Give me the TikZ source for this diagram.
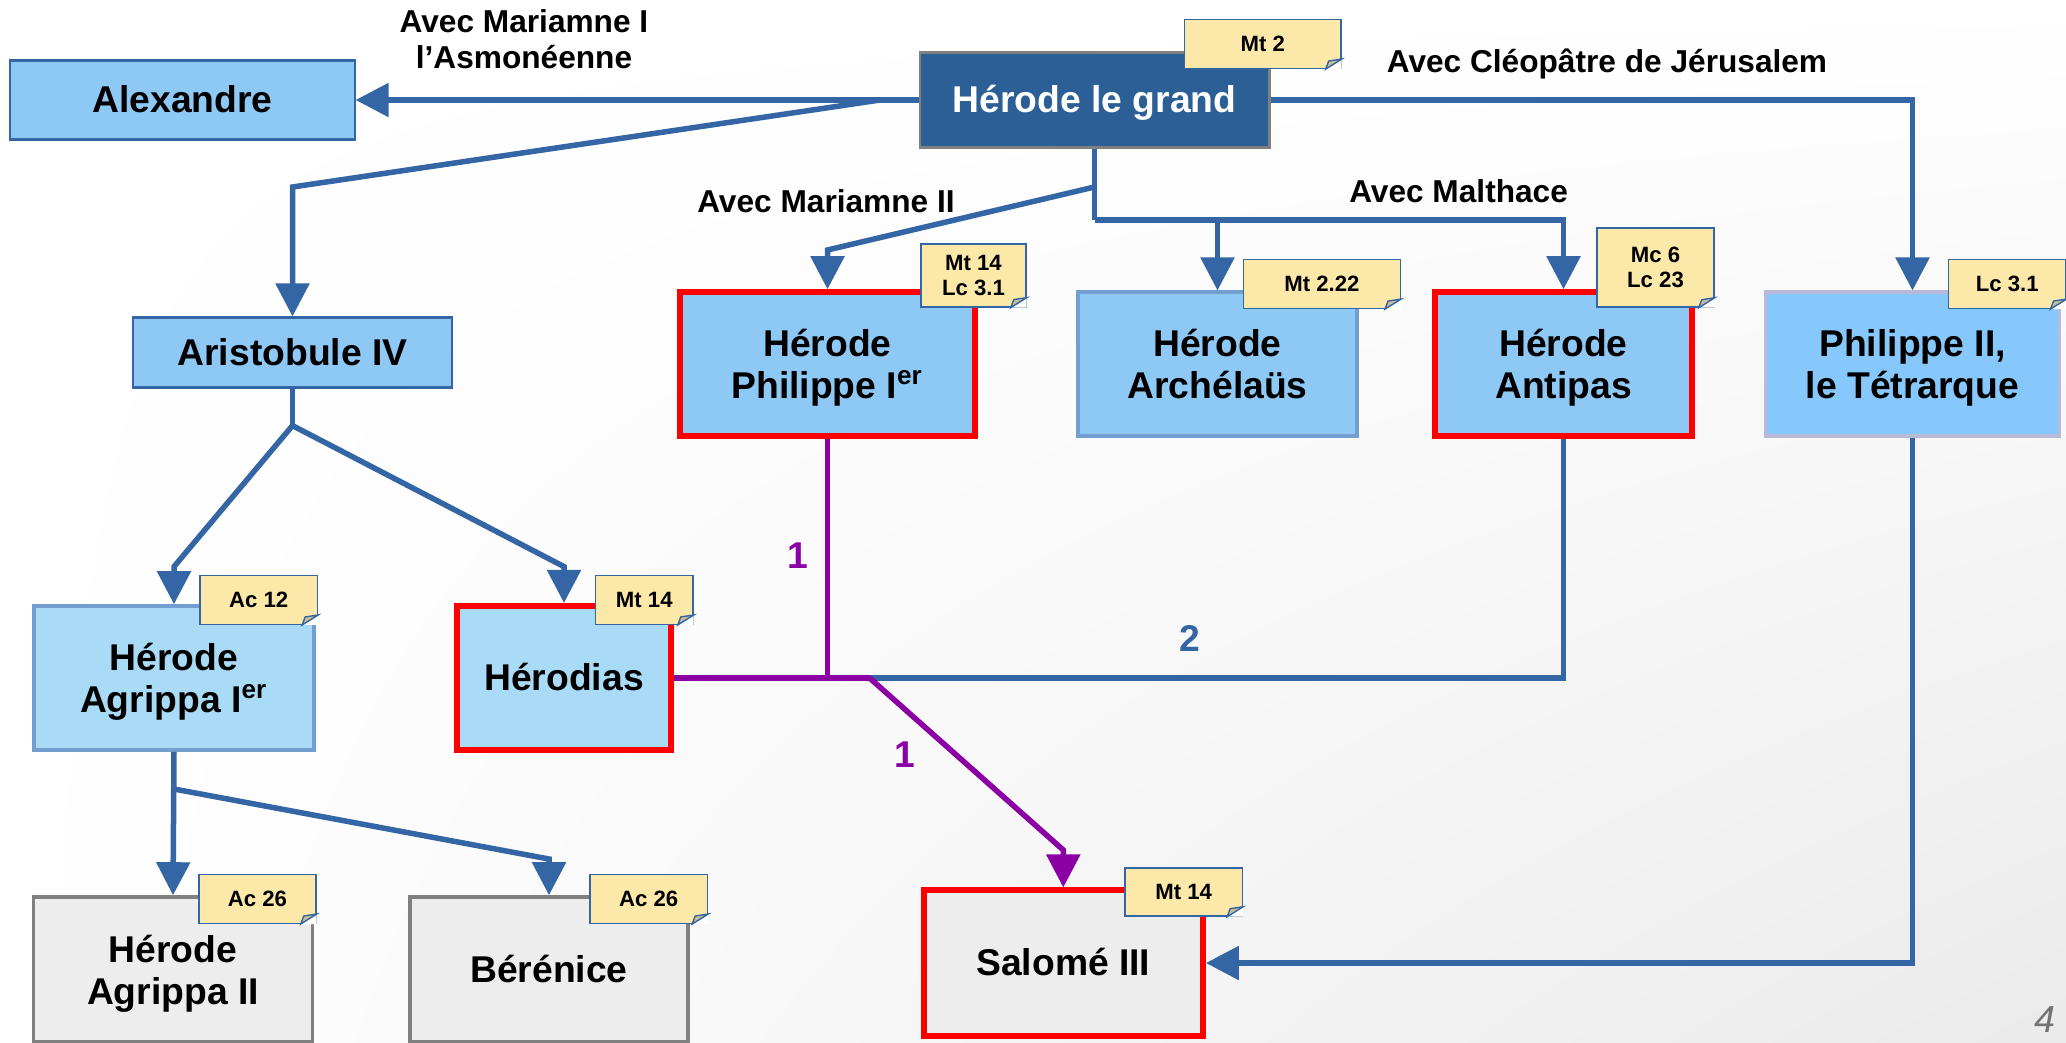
\documentclass[tikz,border=0pt]{standalone}
\usepackage{fontspec}
\setmainfont{Liberation Sans}
\usetikzlibrary{arrows.meta,shadings}

\definecolor{lineblue}{HTML}{3465A4}
\definecolor{darkblue}{HTML}{2D5F97}
\definecolor{boxblue}{HTML}{8EC8F5}
\definecolor{paleblue}{HTML}{A9DBF6}
\definecolor{skyblue}{HTML}{86C8FB}
\definecolor{boxgray}{HTML}{EDEDED}
\definecolor{edgegray}{HTML}{808080}
\definecolor{rimblue}{HTML}{729FCF}
\definecolor{lilac}{HTML}{B9B9D9}
\definecolor{purp}{HTML}{8B00A4}
\definecolor{notefill}{HTML}{FCE8A9}
\definecolor{foldfill}{HTML}{CDBD94}
\definecolor{redrim}{HTML}{FF0000}

\newcommand\lostrut{\rule[-0.212em]{0pt}{1.117em}}

\begin{document}
\begin{tikzpicture}[x=0.01cm, y=-0.01cm,
    person/.style={rectangle, inner sep=0pt, align=center,
      font=\fontsize{10.6}{12}\selectfont\bfseries,
      execute at begin node=\lostrut, execute at end node=\lostrut},
    pair/.style={execute at end node={}, text depth=0pt},
    wed/.style={align=center, font=\fontsize{9}{10.3}\selectfont\bfseries},
    ref/.style={rectangle, fill=notefill, draw=lineblue, line width=0.4pt,
      inner sep=0pt, align=center, font=\fontsize{6.3}{7.1}\selectfont\bfseries},
    count/.style={font=\fontsize{10.6}{12}\selectfont\bfseries},
    tip/.style={-{Triangle[length=0.33cm,width=0.33cm]}},
    tie/.style={draw=lineblue, line width=0.055cm},
    link/.style={tie, tip},
    kin/.style={draw=purp, line width=0.055cm}]

  \useasboundingbox (0,0) rectangle (2066,1042);
  \shade[upper left=white, upper right=white, lower left=white, lower right=black!8]
    (0,0) rectangle (2066,1042);

  % junctions and bends
  \coordinate (jA) at (880,100);
  \coordinate (bA) at (292.5,187);
  \coordinate (jB) at (1094.5,220);
  \coordinate (jD) at (1094.5,187);
  \coordinate (bD) at (827.5,250);
  \coordinate (jE) at (292.5,425.6);
  \coordinate (bE1) at (174,566.6);
  \coordinate (bE2) at (564,566.6);
  \coordinate (jF) at (174,789);
  \coordinate (bF) at (549,859);
  \coordinate (jG) at (827.5,678);
  \coordinate (jH) at (869.6,678);
  \coordinate (bH) at (1063.3,850);

  \begin{scope}[every node/.style={person}]
    \node[fill=darkblue, draw=edgegray, line width=0.8pt, text=white,
      minimum width=3.49cm, minimum height=0.95cm] (herode) at (1094.5,100) {Hérode le grand};
    \node[fill=boxblue, draw=lineblue, line width=0.6pt,
      minimum width=3.44cm, minimum height=0.79cm] (alexandre) at (182.5,100) {Alexandre};
    \node[fill=boxblue, draw=lineblue, line width=0.6pt,
      minimum width=3.19cm, minimum height=0.70cm] (aristobule) at (292.5,352.5) {Aristobule IV};
    \node[pair, fill=boxblue, draw=redrim, line width=0.06cm,
      minimum width=2.95cm, minimum height=1.435cm] (philippeI) at (827.5,364) {Hérode\\Philippe I\textsuperscript{er}};
    \node[pair, fill=boxblue, draw=rimblue, line width=1pt,
      minimum width=2.79cm, minimum height=1.435cm] (archelaus) at (1217.5,364) {Hérode\\Archélaüs};
    \node[pair, fill=boxblue, draw=redrim, line width=0.06cm,
      minimum width=2.57cm, minimum height=1.435cm] (antipas) at (1563.5,364) {Hérode\\Antipas};
    \node[pair, fill=skyblue, draw=lilac, line width=1pt,
      minimum width=2.94cm, minimum height=1.435cm] (philippeII) at (1912.5,364) {Philippe II,\\le Tétrarque};
    \node[pair, fill=paleblue, draw=rimblue, line width=1pt,
      minimum width=2.80cm, minimum height=1.44cm] (agrippa) at (174,678) {Hérode\\Agrippa I\textsuperscript{er}};
    \node[fill=paleblue, draw=redrim, line width=0.06cm,
      minimum width=2.14cm, minimum height=1.44cm] (herodias) at (564,678) {Hérodias};
    \node[fill=boxgray, draw=redrim, line width=0.06cm,
      minimum width=2.79cm, minimum height=1.45cm] (salome) at (1063.3,963) {Salomé III};
    \node[pair, fill=boxgray, draw=edgegray, line width=1pt,
      minimum width=2.79cm, minimum height=1.45cm] (agrippaII) at (173,969.5) {Hérode\\Agrippa II};
    \node[fill=boxgray, draw=edgegray, line width=1pt,
      minimum width=2.78cm, minimum height=1.45cm] (berenice) at (549,969.5) {Bérénice};
  \end{scope}

  % marriages
  \node[wed] (wedI) at (524,39) {Avec Mariamne I\\l’Asmonéenne};
  \node[wed] (wedCl) at (1607,64) {Avec Cléopâtre de Jérusalem};
  \node[wed] (wedII) at (826,201.6) {Avec Mariamne II};
  \node[wed] (wedMa) at (1458.6,191) {Avec Malthace};

  % descent
  \draw[link] (herode.west) -- (alexandre.east);
  \draw[link] (jA) -- (bA) -- (aristobule.north);
  \draw[tie] (herode.south) -- (jB);
  \draw[link] (jB) -| (antipas.north);
  \draw[link] (archelaus.north |- jB) -- (archelaus.north);
  \draw[link] (jD) -- (bD) -- (philippeI.north);
  \draw[link] (herode.east) -| (philippeII.north);
  \draw[tie] (aristobule.south) -- (jE);
  \draw[link] (jE) -- (bE1) -- (agrippa.north);
  \draw[link] (jE) -- (bE2) -- (herodias.north);
  \draw[link] (agrippa.south) -- (agrippaII.north);
  \draw[link] (jF) -- (bF) -- (berenice.north);
  \draw[link] (philippeII.south) |- (salome.east);
  \draw[tie] (antipas.south) |- (jH);
  \draw[kin] (philippeI.south) -- (jG);
  \draw[kin] (herodias.east) -- (jH);
  \draw[kin, tip] (jH) -- (bH) -- (salome.north);

  \node[count, text=purp] (nI) at (798,556) {1};
  \node[count, text=lineblue] (nII) at (1190,638) {2};
  \node[count, text=purp] (nIII) at (905,755) {1};

  % references
  \begin{scope}[every node/.style={ref}]
    \node[minimum width=1.565cm, minimum height=0.487cm] (refHer) at (1262.7,44) {Mt 2};
    \node[minimum width=1.05cm, minimum height=0.63cm] (refPhI) at (973.5,275.4) {Mt 14\\Lc 3.1};
    \node[minimum width=1.566cm, minimum height=0.487cm] (refArc) at (1322,284) {Mt 2.22};
    \node[minimum width=1.17cm, minimum height=0.79cm] (refAnt) at (1655.5,267.5) {Mc 6\\Lc 23};
    \node[minimum width=1.17cm, minimum height=0.487cm] (refPhII) at (2007.3,284) {Lc 3.1};
    \node[minimum width=1.175cm, minimum height=0.485cm] (refAgr) at (258.7,600) {Ac 12};
    \node[minimum width=0.974cm, minimum height=0.485cm] (refHds) at (644.3,600) {Mt 14};
    \node[minimum width=1.175cm, minimum height=0.48cm] (refSal) at (1183.7,892) {Mt 14};
    \node[minimum width=1.17cm, minimum height=0.486cm] (refAgII) at (257.5,899) {Ac 26};
    \node[minimum width=1.175cm, minimum height=0.486cm] (refBer) at (648.7,899) {Ac 26};
  \end{scope}

  \foreach \n in {refHer,refPhI,refArc,refAnt,refPhII,refAgr,refHds,refSal,refAgII,refBer}{
    \fill[white] (\n.south east) -- ++(-16,0) -- ++(16,-10) -- cycle;
    \filldraw[fill=foldfill, draw=lineblue, line width=0.4pt]
      (\n.south east) ++(-16,0) -- ++(16,-10) -- ++(-13,2) -- cycle;
  }

  \node[font=\fontsize{10.7}{11}\selectfont\itshape, text=black!55] (page) at (2045,1020) {4};

\end{tikzpicture}
\end{document}
